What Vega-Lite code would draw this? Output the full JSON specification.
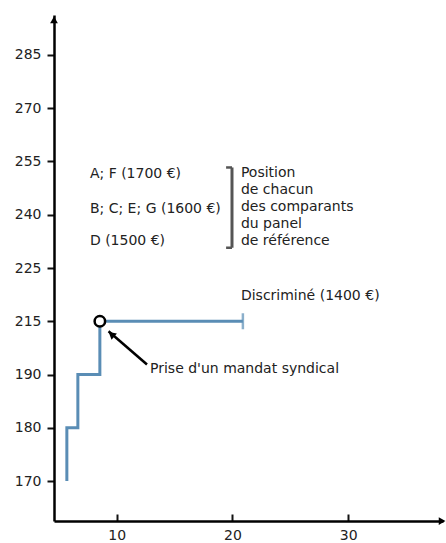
{
  "$schema": "https://vega.github.io/schema/vega-lite/v6.json",
  "width": 389,
  "height": 506,
  "autosize": "none",
  "padding": {"left": 54, "top": 15, "right": 3, "bottom": 22},
  "background": "white",
  "config": {
    "view": {"stroke": null},
    "font": "DejaVu Sans",
    "axis": {"grid": false, "domainColor": "#000", "domainWidth": 2.5, "tickColor": "#111", "tickWidth": 2, "labelFont": "DejaVu Sans", "labelFontSize": 14, "labelColor": "#222", "title": null},
    "text": {"font": "DejaVu Sans", "fontSize": 14, "color": "#222", "align": "left", "baseline": "middle"}
  },
  "datasets": {
    "path": [{"x": 5.7, "y": 170}, {"x": 6.65, "y": 180}, {"x": 8.55, "y": 190}, {"x": 20.9, "y": 215}],
    "endcap": [{"x": 20.9, "y": 215}],
    "event": [{"x": 8.55, "y": 215}],
    "arrow": [{"x": 12.62, "y": 190, "x2": 9.3, "y2": 215}],
    "arrowhead": [{"x": 9.55, "y": 215}],
    "bracket": [{"x": 19.96, "y": 255, "y2": 240}],
    "capTop": [{"x": 19.45, "x2": 19.96, "y": 255}],
    "capBottom": [{"x": 19.45, "x2": 19.96, "y": 240}],
    "topArrow": [{"x": 4.59, "y": 285}],
    "rightArrow": [{"x": 38.1, "y": 170}]
  },
  "encoding": {
    "x": {"field": "x", "type": "quantitative", "scale": {"domain": [4.59, 38.18], "nice": false, "zero": false}, "axis": {"values": [10, 20, 30], "tickSize": -7, "labelPadding": 14}},
    "y": {"field": "y", "type": "ordinal", "scale": {"type": "point", "domain": [285, 270, 255, 240, 225, 215, 190, 180, 170], "padding": 0.75}, "axis": {"tickSize": 7, "labelPadding": 6}}
  },
  "layer": [
    {"data": {"name": "path"}, "mark": {"type": "line", "interpolate": "step-before", "color": "#5a8db5", "strokeWidth": 3}, "encoding": {"order": {"field": "x", "type": "quantitative", "sort": "ascending"}}},
    {"data": {"name": "endcap"}, "mark": {"type": "tick", "color": "#5a8db5", "thickness": 2.5, "size": 16}},
    {"data": {"name": "arrow"}, "mark": {"type": "rule", "color": "black", "strokeWidth": 2.5, "yOffset": -10, "y2Offset": 10}, "encoding": {"x2": {"field": "x2"}, "y2": {"field": "y2"}}},
    {"data": {"name": "arrowhead"}, "mark": {"type": "point", "shape": "triangle-up", "filled": true, "color": "black", "opacity": 1, "size": 70, "angle": 310, "yOffset": 13}},
    {"data": {"name": "event"}, "mark": {"type": "point", "shape": "circle", "filled": true, "fill": "white", "stroke": "black", "strokeWidth": 2.5, "size": 110, "opacity": 1}},
    {"data": {"name": "bracket"}, "mark": {"type": "rule", "color": "#555", "strokeWidth": 3, "yOffset": 6, "y2Offset": 33}, "encoding": {"y2": {"field": "y2"}}},
    {"data": {"name": "capTop"}, "mark": {"type": "rule", "color": "#555", "strokeWidth": 2.5, "yOffset": 6}, "encoding": {"x2": {"field": "x2"}}},
    {"data": {"name": "capBottom"}, "mark": {"type": "rule", "color": "#555", "strokeWidth": 2.5, "yOffset": 33}, "encoding": {"x2": {"field": "x2"}}},
    {"data": {"name": "topArrow"}, "mark": {"type": "point", "shape": "triangle-up", "filled": true, "color": "black", "opacity": 1, "size": 60, "yOffset": -35}},
    {"data": {"name": "rightArrow"}, "mark": {"type": "point", "shape": "triangle-right", "filled": true, "color": "black", "opacity": 1, "size": 60, "yOffset": 40}},
    {"data": {"values": [{"x": 7.69, "y": 255, "label": "A; F (1700 €)"}]}, "mark": {"type": "text", "dy": 13}, "encoding": {"text": {"field": "label"}}},
    {"data": {"values": [{"x": 7.69, "y": 240, "label": "B; C; E; G (1600 €)"}]}, "mark": {"type": "text", "dy": -6}, "encoding": {"text": {"field": "label"}}},
    {"data": {"values": [{"x": 7.69, "y": 240, "label": "D (1500 €)"}]}, "mark": {"type": "text", "dy": 26}, "encoding": {"text": {"field": "label"}}},
    {"data": {"values": [{"x": 20.73, "y": 255, "label": "Position\nde chacun\ndes comparants\ndu panel\nde référence"}]}, "mark": {"type": "text", "baseline": "top", "dy": 5, "lineHeight": 17, "lineBreak": "\n"}, "encoding": {"text": {"field": "label"}}},
    {"data": {"values": [{"x": 20.73, "y": 215, "label": "Discriminé (1400 €)"}]}, "mark": {"type": "text", "dy": -25}, "encoding": {"text": {"field": "label"}}},
    {"data": {"values": [{"x": 12.88, "y": 190, "label": "Prise d'un mandat syndical"}]}, "mark": {"type": "text", "dy": -6}, "encoding": {"text": {"field": "label"}}}
  ]
}
